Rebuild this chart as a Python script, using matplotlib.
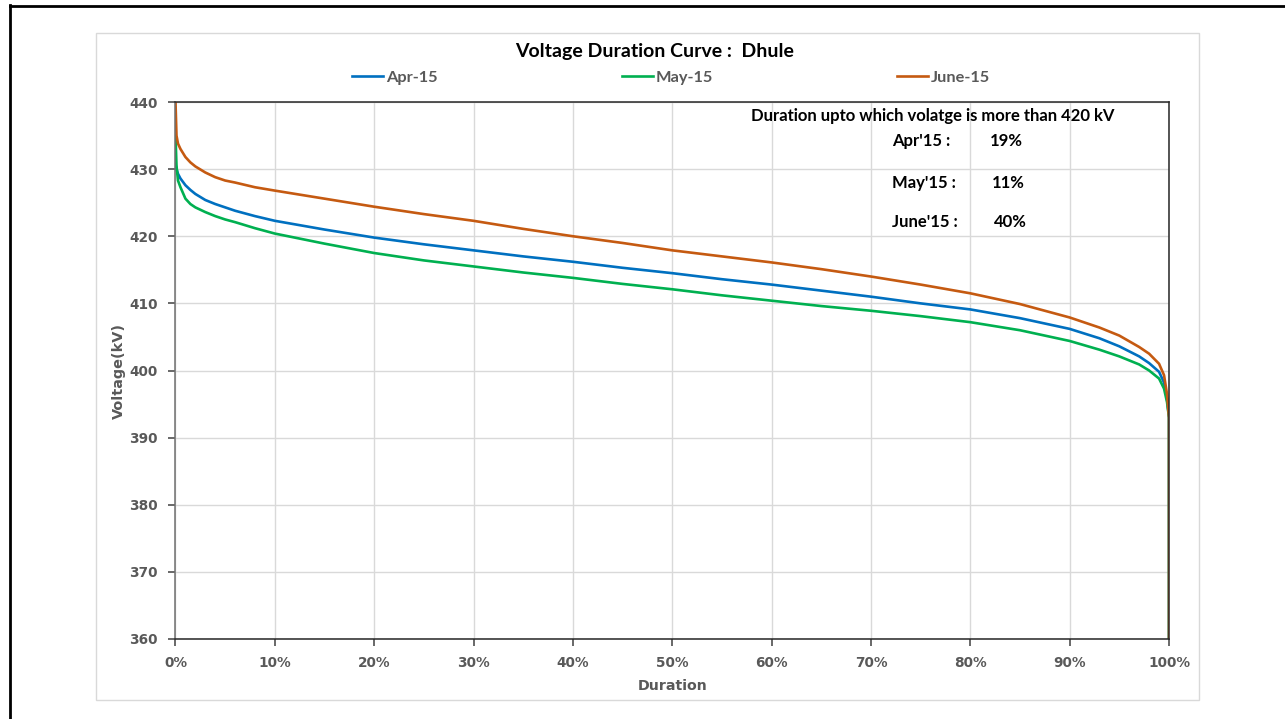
import matplotlib.pyplot as plt
from matplotlib.lines import Line2D
from matplotlib.patches import Rectangle
from matplotlib.ticker import PercentFormatter, MultipleLocator

# duration (% of time) and sorted voltage readings (kV) for each month
duration = [0, 0.1, 0.25, 0.5, 1, 1.5, 2, 3, 4, 5, 6, 8, 10, 15, 20, 25, 30, 35,
            40, 45, 50, 55, 60, 65, 70, 75, 80, 85, 90, 93, 95, 97, 98, 99,
            99.5, 99.8, 100, 100]
apr15 = [430.8, 430.0, 429.3, 428.6, 427.6, 426.9, 426.3, 425.4, 424.8, 424.3,
         423.8, 423.0, 422.3, 421.0, 419.8, 418.8, 417.9, 417.0, 416.2, 415.3,
         414.5, 413.6, 412.8, 411.9, 411.0, 410.0, 409.1, 407.8, 406.2, 404.8,
         403.6, 402.1, 401.1, 399.8, 398.2, 395.8, 393.0, 360.0]
may15 = [435.0, 430.5, 428.3, 427.3, 425.6, 424.8, 424.3, 423.6, 423.0, 422.5,
         422.1, 421.2, 420.4, 418.9, 417.5, 416.4, 415.5, 414.6, 413.8, 412.9,
         412.1, 411.2, 410.4, 409.6, 408.9, 408.1, 407.2, 406.0, 404.4, 403.1,
         402.1, 400.9, 400.0, 398.8, 397.3, 395.3, 393.0, 360.0]
jun15 = [440.0, 435.0, 433.8, 433.0, 431.8, 431.0, 430.4, 429.5, 428.8, 428.3,
         428.0, 427.3, 426.8, 425.6, 424.4, 423.3, 422.3, 421.1, 420.0, 419.0,
         417.9, 417.0, 416.1, 415.1, 414.0, 412.8, 411.5, 409.9, 407.9, 406.4,
         405.2, 403.5, 402.5, 401.0, 399.3, 396.5, 393.0, 360.0]

series = [("Apr-15", apr15, "#0070C0"),
          ("May-15", may15, "#00B050"),
          ("June-15", jun15, "#C55A11")]

# share of time above 420 kV
months = ["Apr'15 :", "May'15 :", "June'15 :"]
above_420 = [19, 11, 40]

W, H = 1285, 719
fig = plt.figure(figsize=(W / 100, H / 100), dpi=100)


def px(x, y):
    return x / W, 1 - y / H


# page frame and chart area box
fig.add_artist(Line2D([9.5 / W, 9.5 / W], [0, 1 - 5 / H], color="black", lw=2, transform=fig.transFigure))
fig.add_artist(Line2D([9.5 / W, 1], [1 - 6 / H, 1 - 6 / H], color="black", lw=2, transform=fig.transFigure))
fig.add_artist(Rectangle(px(96, 700), (1199 - 96) / W, (700 - 33) / H, fill=False,
                         edgecolor="#d9d9d9", lw=1, transform=fig.transFigure))

ax = fig.add_axes([175.5 / W, 1 - 639 / H, (1169 - 175.5) / W, (639 - 102) / H])

for name, vals, col in series:
    ax.plot(duration, vals, color=col, lw=1.9, label=name, solid_joinstyle="round")

ax.set_xlim(0, 100)
ax.set_ylim(360, 440)
ax.xaxis.set_major_locator(MultipleLocator(10))
ax.yaxis.set_major_locator(MultipleLocator(10))
ax.xaxis.set_major_formatter(PercentFormatter(100, decimals=0))
ax.grid(True, color="#d9d9d9", lw=1)
ax.set_axisbelow(True)

for side in ["top", "bottom", "right"]:
    ax.spines[side].set_color("#262626")
ax.spines["left"].set_color("#6f6f6f")
for s in ax.spines.values():
    s.set_linewidth(1.1)

tick_font = dict(family="DejaVu Sans", weight="bold", size=9.8)
ax.tick_params(colors="#404040", labelcolor="#595959", length=5, width=1.1)
ax.tick_params(axis="x", pad=7)
ax.tick_params(axis="y", pad=8)
for lab in ax.get_xticklabels() + ax.get_yticklabels():
    lab.set_fontproperties(tick_font)

ax.set_xlabel("Duration", fontfamily="DejaVu Sans", fontweight="bold", fontsize=10.2,
              color="#595959", labelpad=7)
ax.set_ylabel("Voltage(kV)", fontfamily="DejaVu Sans", fontweight="bold", fontsize=10.4,
              color="#595959", labelpad=2)

cal = "Lato"
fig.text(*px(655, 51), "Voltage Duration Curve :  Dhule", ha="center", va="center",
         fontfamily=cal, fontweight="bold", fontsize=14, color="black")

leg = ax.legend(ncol=3, loc="center left", bbox_to_anchor=px(352, 78),
                bbox_transform=fig.transFigure, frameon=False,
                prop=dict(family=cal, weight="bold", size=11.8),
                handlelength=1.9, handletextpad=0.15, columnspacing=11.25,
                borderpad=0, borderaxespad=0)
for t in leg.get_texts():
    t.set_color("#595959")

fig.text(*px(751, 116), "Duration upto which volatge is more than 420 kV", ha="left", va="center",
         fontfamily=cal, fontweight="bold", fontsize=12, color="black")
rows_y = [141, 183, 222]
vals_x = [990, 992, 994]
for m, p, yy, xx in zip(months, above_420, rows_y, vals_x):
    fig.text(*px(892, yy), m, ha="left", va="center", fontfamily=cal,
             fontweight="bold", fontsize=12, color="black")
    fig.text(*px(xx, yy), f"{p}%", ha="left", va="center", fontfamily=cal,
             fontweight="bold", fontsize=12, color="black")

fig.savefig("out.png", dpi=100)
